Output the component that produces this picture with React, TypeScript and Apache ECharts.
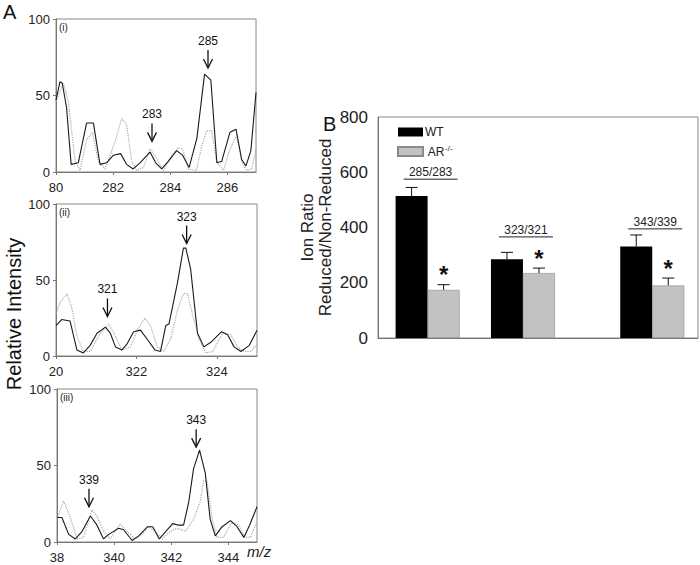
import React, { useEffect, useRef } from "react";
import * as echarts from "echarts";

// ---------- Panel A (i) ----------
const mzI_black = [280.0, 280.14, 280.22, 280.37, 280.53, 280.78, 281.07, 281.31, 281.54, 281.77, 282.01, 282.26, 282.47, 282.7, 282.94, 283.29, 283.49, 283.7, 283.93, 284.22, 284.43, 284.66, 284.93, 285.2, 285.42, 285.63, 285.8, 286.09, 286.3, 286.5, 286.65, 286.82, 287.0];
const intI_black = [47, 59, 58, 42, 5, 6, 32, 32, 5, 6, 11, 12, 5, 2, 6, 13, 6, 2, 7, 14, 11, 3, 22, 64, 60, 6, 7, 26, 28, 8, 4, 14, 52];
const mzI_gray = [280.0, 280.26, 280.43, 280.67, 280.84, 281.07, 281.28, 281.48, 281.72, 282.07, 282.3, 282.47, 282.65, 282.82, 283.06, 283.29, 283.52, 283.76, 283.99, 284.28, 284.43, 284.63, 284.92, 285.1, 285.27, 285.45, 285.62, 285.86, 286.09, 286.32, 286.5, 286.67, 286.85, 287.0];
const intI_gray = [46, 58, 46, 7, 1, 21, 26, 7, 2, 20, 35, 31, 7, 1, 3, 15, 9, 1, 9, 16, 15, 2, 1, 17, 27, 27, 7, 1, 15, 24, 7, 1, 2, 15];

// ---------- Panel A (ii) ----------
const mzII_black = [320.0, 320.14, 320.35, 320.52, 320.68, 320.85, 321.02, 321.23, 321.35, 321.48, 321.64, 321.77, 321.93, 322.1, 322.27, 322.46, 322.6, 322.73, 322.81, 323.02, 323.17, 323.23, 323.35, 323.52, 323.68, 323.85, 324.12, 324.27, 324.43, 324.6, 324.81, 325.0];
const intII_black = [20, 24, 23, 4, 2, 7, 15, 19, 15, 6, 4, 8, 16, 17, 11, 4, 3, 20, 21, 48, 71, 71, 57, 15, 6, 9, 16, 14, 6, 3, 7, 17];
const mzII_gray = [320.0, 320.1, 320.27, 320.39, 320.52, 320.68, 320.85, 321.1, 321.31, 321.48, 321.64, 321.85, 322.02, 322.21, 322.35, 322.52, 322.68, 322.85, 323.02, 323.17, 323.27, 323.39, 323.56, 323.73, 323.9, 324.14, 324.35, 324.52, 324.68, 324.85, 325.0];
const intII_gray = [28, 35, 41, 32, 13, 3, 3, 15, 21, 13, 4, 6, 17, 25, 20, 6, 3, 11, 30, 41, 41, 28, 11, 2, 3, 15, 14, 6, 3, 3, 8];

// ---------- Panel A (iii) ----------
const mzIII_black = [338.0, 338.17, 338.41, 338.64, 338.88, 339.17, 339.4, 339.63, 339.81, 340.16, 340.33, 340.63, 340.86, 341.17, 341.35, 341.58, 341.81, 342.05, 342.26, 342.43, 342.61, 342.78, 342.99, 343.19, 343.36, 343.54, 343.78, 344.07, 344.3, 344.54, 344.74, 345.0];
const intIII_black = [16, 16, 5, 2, 7, 17, 11, 2, 5, 9, 8, 1, 4, 10, 10, 2, 7, 12, 11, 11, 26, 48, 60, 45, 15, 4, 10, 14, 10, 3, 11, 23];
const mzIII_gray = [338.0, 338.23, 338.47, 338.7, 338.93, 339.22, 339.4, 339.63, 339.86, 340.21, 340.44, 340.74, 340.98, 341.21, 341.44, 341.68, 341.97, 342.21, 342.5, 342.79, 343.02, 343.13, 343.25, 343.43, 343.6, 343.83, 344.12, 344.35, 344.58, 344.77, 345.0];
const intIII_gray = [15, 27, 16, 2, 3, 21, 17, 7, 2, 12, 7, 2, 5, 10, 7, 2, 7, 9, 7, 15, 27, 40, 40, 15, 3, 3, 13, 11, 3, 3, 13];

// peak annotations: m/z, arrow-tip intensity, label
const annotI_mz = [283.36, 285.32];
const annotI_tip = [20, 68];
const annotI_label = ["283", "285"];
const annotII_mz = [321.28, 323.25];
const annotII_tip = [26, 74];
const annotII_label = ["321", "323"];
const annotIII_mz = [339.12, 342.87];
const annotIII_tip = [23, 62];
const annotIII_label = ["339", "343"];

// ---------- Panel B ----------
const groupPos = [1.55, 4.53, 8.57];
const ratioLabels = ["285/283", "323/321", "343/339"];
const ratioLevels = [575, 366, 395];
const wtValues = [514, 285, 331];
const wtErrors = [31, 25, 42];
const arValues = [174, 235, 190];
const arErrors = [19, 18, 27];

const FONT = "'Liberation Sans', Arial, Helvetica, sans-serif";
const AXIS_GRAY = "#777";

const zip = (a: number[], b: number[]) => a.map((v, i) => [v, b[i]]);

function makeArrowRender(labels: string[]) {
  return (params: any, api: any) => {
    const p = api.coord([api.value(0), api.value(1)]);
    const label = labels[params.dataIndex] || "";
    return {
      type: "group",
      children: [
        { type: "line", shape: { x1: p[0], y1: p[1] - 18, x2: p[0], y2: p[1] }, style: { stroke: "#111", lineWidth: 1.3 } },
        { type: "polyline", shape: { points: [[p[0] - 4.5, p[1] - 9], [p[0], p[1]], [p[0] + 4.5, p[1] - 9]] }, style: { stroke: "#111", lineWidth: 1.3, fill: null } },
        { type: "text", style: { text: label, x: p[0], y: p[1] - 21, align: "center", verticalAlign: "bottom", fontSize: 12, fontFamily: FONT, fill: "#111" } },
      ],
    };
  };
}

function panelAxes(idx: number, min: number, max: number) {
  const x = {
    type: "value", gridIndex: idx, min, max, interval: 2,
    axisLine: { lineStyle: { color: AXIS_GRAY } },
    axisTick: { show: true, length: 3, lineStyle: { color: AXIS_GRAY } },
    splitLine: { show: false },
    axisLabel: {
      fontSize: 13, color: "#222", fontFamily: FONT, margin: 9, showMaxLabel: false,
      formatter: (v: number) => (v === max ? "" : v === min ? String(v).slice(1) : String(v)),
    },
  };
  const y = {
    type: "value", gridIndex: idx, min: 0, max: 100, interval: 50,
    axisLine: { show: true, lineStyle: { color: AXIS_GRAY } },
    axisTick: { show: true, length: 3, lineStyle: { color: AXIS_GRAY } },
    splitLine: { show: false },
    axisLabel: { fontSize: 13, color: "#222", fontFamily: FONT, margin: 6 },
  };
  return { x, y };
}

function panelSeries(idx: number, mzB: number[], intB: number[], mzG: number[], intG: number[], aMz: number[], aTip: number[], aLabel: string[]) {
  return [
    {
      type: "line", xAxisIndex: idx, yAxisIndex: idx, data: zip(mzG, intG), showSymbol: false, symbol: "none",
      lineStyle: { color: "#a8a8a8", width: 1.2, type: "dotted" }, z: 2,
    },
    {
      type: "line", xAxisIndex: idx, yAxisIndex: idx, data: zip(mzB, intB), showSymbol: false, symbol: "none",
      lineStyle: { color: "#1a1a1a", width: 1.1 }, z: 3,
    },
    {
      type: "custom", xAxisIndex: idx, yAxisIndex: idx, data: zip(aMz, aTip), renderItem: makeArrowRender(aLabel), z: 5, silent: true,
    },
  ];
}

export default function App() {
  const ref = useRef<HTMLDivElement>(null);
  useEffect(() => {
    if (!ref.current) return;
    const chart = echarts.init(ref.current, null, { renderer: "svg" });
    const a1 = panelAxes(0, 280, 287);
    const a2 = panelAxes(1, 320, 325);
    const a3 = panelAxes(2, 338, 345);

    const errData = [
      ...groupPos.map((x, i) => [x, wtValues[i], wtErrors[i], -1, 0]),
      ...groupPos.map((x, i) => [x, arValues[i], arErrors[i], 1, 1]),
    ];
    const ratioData = groupPos.map((x, i) => [x, ratioLevels[i]]);

    const option: any = {
      animation: false,
      textStyle: { fontFamily: FONT },
      grid: [
        { left: 56, top: 19, width: 200, height: 153, show: true, borderColor: "#888", borderWidth: 1 },
        { left: 56, top: 204, width: 201, height: 152, show: true, borderColor: "#888", borderWidth: 1 },
        { left: 57, top: 389, width: 200, height: 153, show: true, borderColor: "#888", borderWidth: 1 },
        { left: 378, top: 117, width: 320, height: 221, show: true, borderColor: "#888", borderWidth: 1 },
      ],
      xAxis: [
        a1.x, a2.x, a3.x,
        {
          type: "value", gridIndex: 3, min: 0, max: 10,
          axisLine: { lineStyle: { color: AXIS_GRAY } }, axisTick: { show: false }, axisLabel: { show: false }, splitLine: { show: false },
        },
      ],
      yAxis: [
        a1.y, a2.y, a3.y,
        {
          type: "value", gridIndex: 3, min: 0, max: 800, interval: 200,
          axisLine: { show: true, lineStyle: { color: AXIS_GRAY } }, axisTick: { show: false }, splitLine: { show: false },
          axisLabel: { fontSize: 17, color: "#222", fontFamily: FONT, margin: 10 },
          name: "Ion Ratio\nReduced/Non-Reduced", nameLocation: "middle", nameRotate: 90, nameGap: 44,
          nameTextStyle: { fontSize: 17, color: "#222", fontFamily: FONT, lineHeight: 18 },
        },
      ],
      legend: {
        left: 392, top: 121, orient: "vertical", itemWidth: 25, itemHeight: 9, itemGap: 6,
        icon: "rect",
        data: ["WT", "AR"],
        formatter: (n: string) => (n === "AR" ? " AR{sup|-/-}" : n),
        textStyle: { fontSize: 12, color: "#222", fontFamily: FONT, padding: [0, 0, 0, -3], rich: { sup: { fontSize: 8, padding: [0, 0, 7, 0], fontFamily: FONT, color: "#222" } } },
      },
      series: [
        ...panelSeries(0, mzI_black, intI_black, mzI_gray, intI_gray, annotI_mz, annotI_tip, annotI_label),
        ...panelSeries(1, mzII_black, intII_black, mzII_gray, intII_gray, annotII_mz, annotII_tip, annotII_label),
        ...panelSeries(2, mzIII_black, intIII_black, mzIII_gray, intIII_gray, annotIII_mz, annotIII_tip, annotIII_label),
        {
          name: "WT", type: "bar", xAxisIndex: 3, yAxisIndex: 3, barWidth: 32, barGap: "0%",
          data: zip(groupPos, wtValues), itemStyle: { color: "#000" },
        },
        {
          name: "AR", type: "bar", xAxisIndex: 3, yAxisIndex: 3, barWidth: 32, barGap: "0%",
          data: zip(groupPos, arValues), itemStyle: { color: "#c2c2c2", borderColor: "#8a8a8a", borderWidth: 0.6 },
        },
        {
          type: "custom", xAxisIndex: 3, yAxisIndex: 3, data: errData, z: 5, silent: true,
          renderItem: (params: any, api: any) => {
            const x = api.value(0), v = api.value(1), e = api.value(2), side = api.value(3), star = api.value(4);
            const base = api.coord([x, v]);
            const top = api.coord([x, v + e]);
            const cx = base[0] + side * 16;
            const children: any[] = [
              { type: "line", shape: { x1: cx, y1: base[1], x2: cx, y2: top[1] }, style: { stroke: "#111", lineWidth: 1 } },
              { type: "line", shape: { x1: cx - 6, y1: top[1], x2: cx + 6, y2: top[1] }, style: { stroke: "#111", lineWidth: 1 } },
            ];
            if (star) {
              children.push({ type: "text", style: { text: "*", x: cx, y: top[1] + 2, align: "center", verticalAlign: "bottom", fontSize: 24, fontWeight: "bold", fontFamily: FONT, fill: "#111" } });
            }
            return { type: "group", children };
          },
        },
        {
          type: "custom", xAxisIndex: 3, yAxisIndex: 3, data: ratioData, z: 5, silent: true,
          renderItem: (params: any, api: any) => {
            const p = api.coord([api.value(0), api.value(1)]);
            const cx = p[0] + 3;
            return {
              type: "group",
              children: [
                { type: "line", shape: { x1: cx - 27, y1: p[1], x2: cx + 27, y2: p[1] }, style: { stroke: "#222", lineWidth: 1 } },
                { type: "text", style: { text: ratioLabels[params.dataIndex], x: cx, y: p[1] - 1, align: "center", verticalAlign: "bottom", fontSize: 12, fontFamily: FONT, fill: "#222" } },
              ],
            };
          },
        },
      ],
      graphic: [
        { type: "text", left: 3, top: 2, style: { text: "A", fontSize: 20, fontFamily: FONT, fill: "#111" } },
        { type: "text", left: 323, top: 114, style: { text: "B", fontSize: 20, fontFamily: FONT, fill: "#111" } },
        { type: "text", left: 59, top: 22, style: { text: "(i)", fontSize: 10, fontFamily: FONT, fill: "#222" } },
        { type: "text", left: 59, top: 207, style: { text: "(ii)", fontSize: 10, fontFamily: FONT, fill: "#222" } },
        { type: "text", left: 60, top: 392, style: { text: "(iii)", fontSize: 10, fontFamily: FONT, fill: "#222" } },
        { type: "text", left: 247, top: 544, style: { text: "m/z", fontSize: 15, fontStyle: "italic", fontFamily: FONT, fill: "#222" } },
        {
          type: "text", x: 14, y: 314, rotation: Math.PI / 2,
          style: { text: "Relative Intensity", fontSize: 20, fontFamily: FONT, fill: "#111", align: "center", verticalAlign: "middle" },
        },
      ],
    };
    chart.setOption(option);
    return () => chart.dispose();
  }, []);
  return <div ref={ref} style={{ position: "absolute", left: 0, top: 0, width: 700, height: 565, background: "#fff" }} />;
}
